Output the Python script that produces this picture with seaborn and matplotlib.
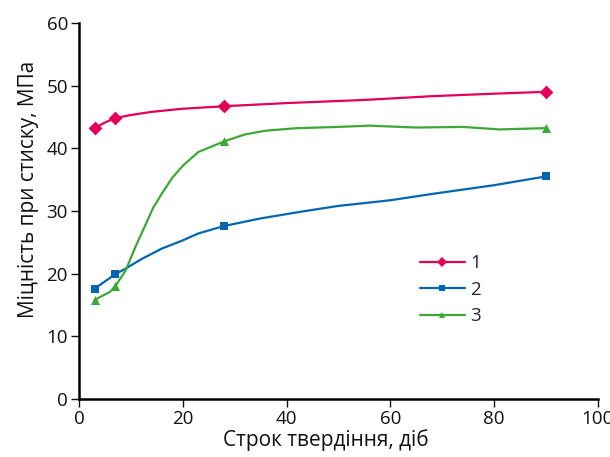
import matplotlib
matplotlib.use("Agg")
import matplotlib.pyplot as plt
import seaborn as sns
import pandas as pd
from matplotlib.lines import Line2D

# measured points (markers)
days = [3, 7, 28, 90]
s1 = [43.2, 44.8, 46.7, 49.0]
s2 = [17.6, 19.9, 27.6, 35.5]
s3 = [15.8, 18.0, 41.1, 43.2]

# curve traces
c1_x = [3, 5, 7, 10, 14, 20, 28, 40, 55, 68, 80, 90]
c1_y = [43.2, 44.1, 44.8, 45.3, 45.8, 46.3, 46.7, 47.2, 47.7, 48.3, 48.7, 49.0]
c2_x = [3, 7, 9, 12, 16, 20, 23, 28, 35, 43, 50, 60, 68, 80, 90]
c2_y = [17.6, 19.9, 20.8, 22.3, 24.0, 25.3, 26.4, 27.6, 28.8, 29.9, 30.8, 31.7, 32.7, 34.1, 35.5]
c3_x = [3, 6, 7, 9, 11, 12.5, 14.3, 16, 18, 20, 23, 28, 32, 36, 42, 50, 56, 65, 74, 81, 90]
c3_y = [15.8, 17.1, 18.0, 20.5, 24.5, 27.2, 30.5, 32.8, 35.3, 37.2, 39.4, 41.1, 42.2, 42.8,
        43.2, 43.4, 43.6, 43.3, 43.4, 43.0, 43.2]

labels = ["1", "2", "3"]
colors = ["#E3005A", "#0066B2", "#3DA935"]
markers = ["D", "s", "^"]
msizes = [7, 6.2, 6.5]

sns.set_theme(style="white")
plt.rcParams["font.family"] = ["Open Sans", "DejaVu Sans"]

fig = plt.figure(figsize=(6.1, 4.57), dpi=100)
ax = fig.add_axes([0.1295, 0.127, 0.8505, 0.823])

curves = [(c1_x, c1_y), (c2_x, c2_y), (c3_x, c3_y)]
points = [s1, s2, s3]
handles = []
for i in range(3):
    cx, cy = curves[i]
    df = pd.DataFrame({"x": cx, "y": cy})
    sns.lineplot(data=df, x="x", y="y", ax=ax, color=colors[i], lw=1.6, sort=False,
                 estimator=None)
    dp = pd.DataFrame({"x": days, "y": points[i]})
    sns.scatterplot(data=dp, x="x", y="y", ax=ax, color=colors[i], marker=markers[i],
                    s=msizes[i] ** 2, edgecolor=colors[i], linewidth=0, zorder=5)
    handles.append(Line2D([0], [0], color=colors[i], lw=1.6, marker=markers[i],
                          markersize=msizes[i] - 1.5, markeredgewidth=0))

ax.set_xlim(0, 100)
ax.set_ylim(0, 60)
ax.set_xticks([0, 20, 40, 60, 80, 100])
ax.set_yticks([0, 10, 20, 30, 40, 50, 60])
ax.set_xlabel("Строк твердіння, діб", fontsize=15, color="#111111", va="center")
ax.set_ylabel("Міцність при стиску, МПа", fontsize=15, color="#111111", va="center")
ax.xaxis.set_label_coords(0.476, -0.109)
ax.yaxis.set_label_coords(-0.098, 0.556)
ax.tick_params(axis="both", labelsize=13.5, colors="#111111", direction="out",
               length=6, width=1.0, left=True, bottom=True, pad=2)
for sp in ["top", "right"]:
    ax.spines[sp].set_visible(False)
for sp in ["left", "bottom"]:
    ax.spines[sp].set_color("black")
    ax.spines[sp].set_linewidth(1.8)

ax.legend(handles, labels, frameon=False, fontsize=13.5, loc="center left",
          bbox_to_anchor=(0.624, 0.29), handlelength=2.4, labelspacing=0.45,
          handletextpad=0.3)

fig.savefig("out.png", dpi=100)
